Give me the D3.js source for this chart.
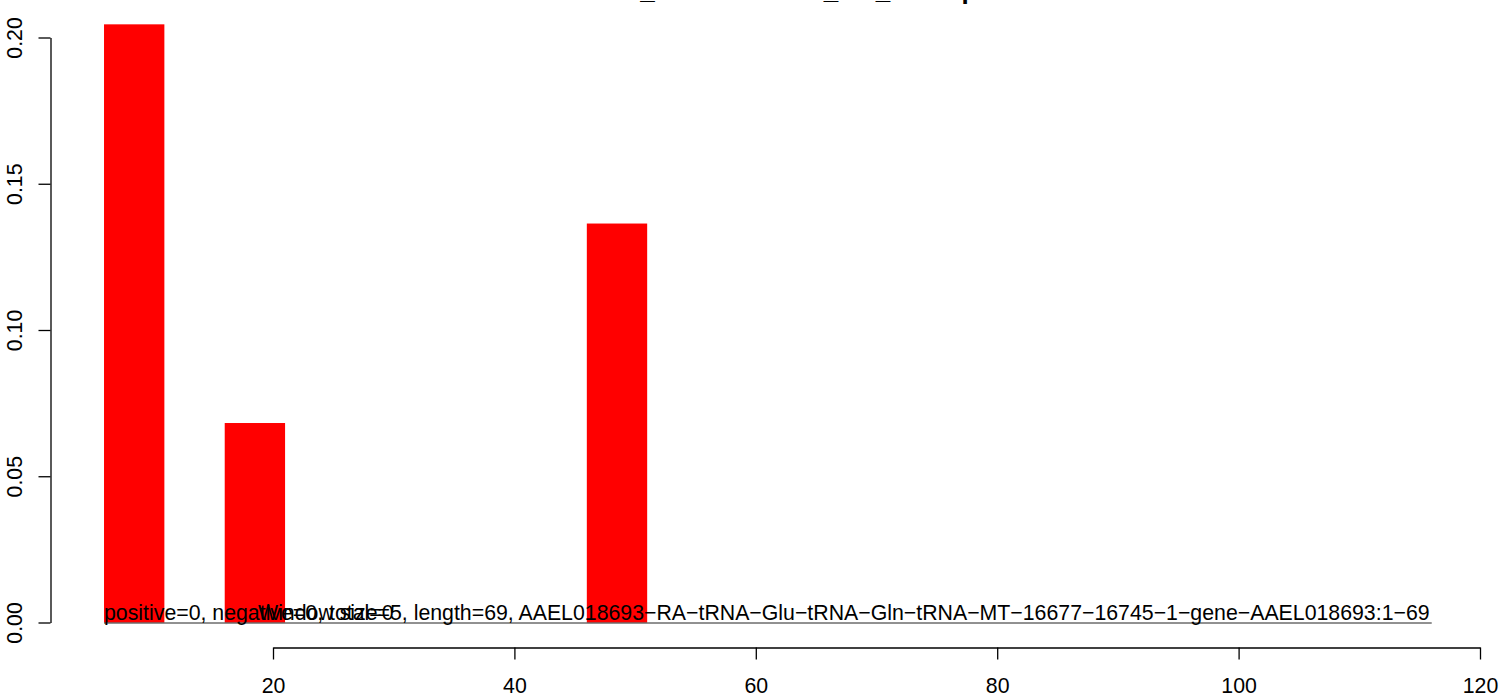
<!DOCTYPE html>
<html><head><meta charset="utf-8">
<script src="https://cdn.jsdelivr.net/npm/d3@7"></script>
<style>body{margin:0;background:#fff}svg{display:block}</style>
</head><body>
<script>
// ---- data ----
const windowStarts = [6, 16, 46];
const windowSize = 5;
const ratios = [0.2045, 0.0682, 0.1364];
const zeroLineRange = [6, 116];
const xTicks = [20, 40, 60, 80, 100, 120];
const yTicks = [0.00, 0.05, 0.10, 0.15, 0.20];
const titleText = "AAEL018693_tRNA-Glu-Gln_MT_tRNA peaks";
const labels = ["positive=0, negative=0, total=0",
  "Window size=5, length=69, AAEL018693−RA−tRNA−Glu−tRNA−Gln−tRNA−MT−16677−16745−1−gene−AAEL018693:1−69"];
const labelX = [6, 18.76];

const W = 1512, H = 697;
const svg = d3.select("body").append("svg").attr("width", W).attr("height", H);
const x = d3.scaleLinear().domain([20, 120]).range([273, 1480]);
const y = d3.scaleLinear().domain([0, 0.2]).range([622.5, 37.5]);
const font = "Liberation Sans, Arial, sans-serif";
const fs = 21.3;

// bars
svg.selectAll("rect.bar").data(ratios).enter().append("rect")
  .attr("x", (d, i) => x(windowStarts[i]))
  .attr("width", (d, i) => x(windowStarts[i] + windowSize) - x(windowStarts[i]))
  .attr("y", d => y(d))
  .attr("height", d => y(0) - y(d))
  .attr("fill", "#ff0000");

// zero line
svg.append("line")
  .attr("x1", x(zeroLineRange[0])).attr("x2", x(zeroLineRange[1]))
  .attr("y1", y(0) + 0.5).attr("y2", y(0) + 0.5)
  .attr("stroke", "#222").attr("stroke-width", 1);

// labels
svg.selectAll("text.lab").data(labels).enter().append("text")
  .attr("x", (d, i) => x(labelX[i])).attr("y", y(0) - 2.5)
  .attr("font-family", font).attr("font-size", fs).attr("fill", "#000")
  .text(d => d);

// y axis
const yAxis = d3.axisLeft(y).tickValues(yTicks).tickFormat(d3.format(".2f")).tickSize(12).tickSizeOuter(0);
const gy = svg.append("g").attr("transform", "translate(50.5,0)").call(yAxis);
gy.select(".domain").attr("stroke", "#000").attr("stroke-width", 1.3);
gy.selectAll(".tick line").attr("stroke", "#000").attr("stroke-width", 1.3);
gy.selectAll(".tick text").attr("font-family", font).attr("font-size", fs).attr("fill", "#000")
  .attr("x", 0).attr("y", 0).attr("dy", null).attr("dx", null)
  .attr("text-anchor", "middle")
  .attr("transform", "translate(-29,0) rotate(-90)");

// x axis
const xAxis = d3.axisBottom(x).tickValues(xTicks).tickFormat(d3.format("d")).tickSize(12).tickSizeOuter(0);
const gx = svg.append("g").attr("transform", "translate(0,647.5)").call(xAxis);
gx.select(".domain").attr("stroke", "#000").attr("stroke-width", 1.3);
gx.selectAll(".tick line").attr("stroke", "#000").attr("stroke-width", 1.3);
gx.selectAll(".tick text").attr("font-family", font).attr("font-size", fs).attr("fill", "#000")
  .attr("y", 45).attr("dy", null);

// title (mostly above the visible area, as in the reference)
svg.append("text").attr("x", 759).attr("y", -1.5).attr("text-anchor", "middle")
  .attr("font-family", font).attr("font-weight", "bold").attr("font-size", 26)
  .text(titleText);
</script>
</body></html>
